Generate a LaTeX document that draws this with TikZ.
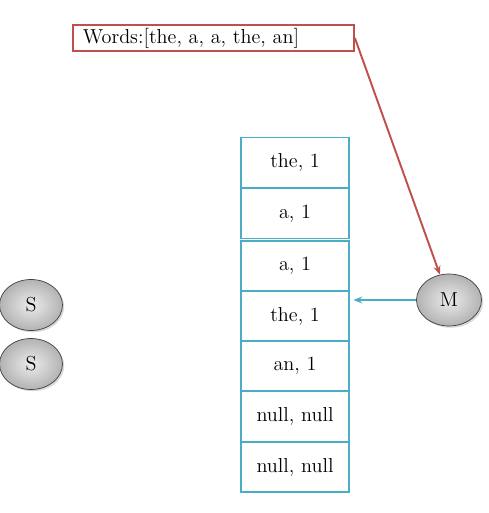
\documentclass[tikz,border=0pt]{standalone}
\usepackage{tikz}
\usetikzlibrary{shapes.geometric}
\usetikzlibrary{shadows}
\usetikzlibrary{arrows.meta}
\definecolor{boxred}{HTML}{C0504D}
\definecolor{cellblue}{HTML}{4BACC6}

\begin{document}
\begin{tikzpicture}[x = 0.02cm, y = -0.02cm, font = \fontsize{11.5pt}{14pt}\selectfont,
        cell/.style = {draw = cellblue, line width = 1.1pt, minimum width = 2.16cm, minimum height = 1cm, inner sep = 0pt},
        proc/.style = {ellipse, draw = black!75, shade, inner color = gray!15, outer color = gray!60, drop shadow = {shadow xshift = 1pt, shadow yshift = -1pt, opacity = 0.3}, minimum width = 1.26cm, minimum height = 1.02cm, inner sep = 0pt}]
        \useasboundingbox (0, 0) rectangle (488, 513);
        \node[draw = boxred, line width = 1.1pt, anchor = west, text width = 5.22cm, inner xsep = 0.2cm, minimum height = 0.52cm, inner ysep = 0pt] (words) at (72, 38) {Words:[the, a, a, the, an]};
        \foreach \lbl/\y [count = \i] in {{the, 1}/162.5, {a, 1}/213.5, {a, 1}/266, {the, 1}/316, {an, 1}/366, {null, null}/416.5, {null, null}/467}
            \node[cell] (t\i) at (295, \y) {\lbl};
        \node[proc, minimum width = 1.3cm, minimum height = 1.04cm] (m) at (449, 300) {M};
        \node[proc] (s1) at (31, 305) {S};
        \node[proc] (s2) at (31, 364) {S};
        \draw[boxred, line width = 1.1pt, -{Stealth[length = 5pt, width = 4pt]}] (words.east) -- (m);
        \draw[cellblue, line width = 1.1pt, -{Stealth[length = 5pt, width = 4pt]}] (m.west) -- ([xshift = 2pt]m.west -| t4.east);
    \end{tikzpicture}
\end{document}
